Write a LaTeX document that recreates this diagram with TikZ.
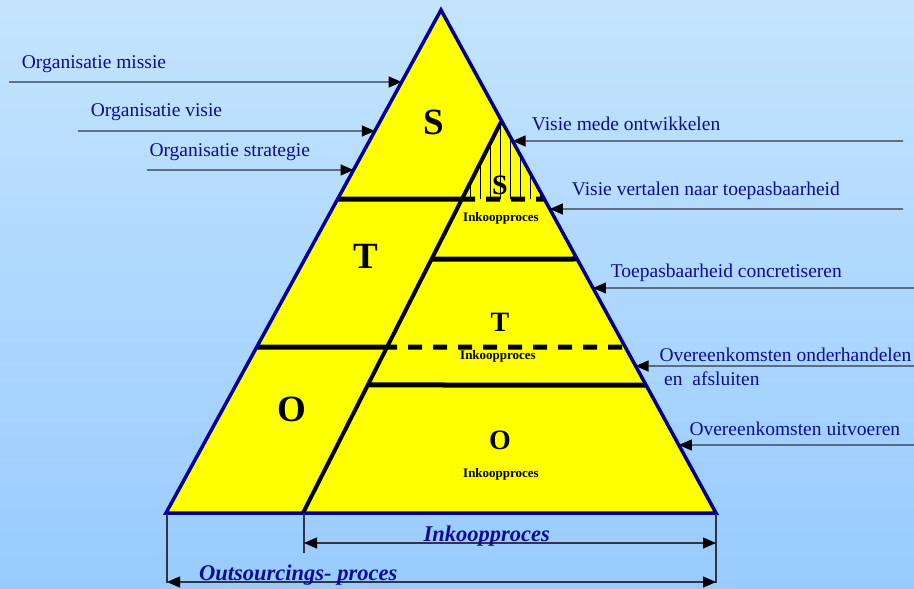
\documentclass[tikz,border=0pt]{standalone}
\usepackage{fontspec}
\setmainfont{Liberation Serif}
\usetikzlibrary{calc,arrows.meta}
\definecolor{pyrfill}{RGB}{255,255,0}
\definecolor{pyredge}{RGB}{0,0,153}
\definecolor{lbltext}{RGB}{12,12,150}
\definecolor{bgtop}{RGB}{196,228,254}
\definecolor{bgbot}{RGB}{152,203,255}
\definecolor{wire}{RGB}{50,52,64}

\begin{document}
\begin{tikzpicture}[x=1pt,y=-1pt,
  sidelabel/.style={text=lbltext, font=\fontsize{19.5}{22}\selectfont, inner sep=0pt, anchor=base west},
  bigletter/.style={font=\fontsize{37}{40}\selectfont\bfseries, inner sep=0pt},
  subletter/.style={font=\fontsize{28}{32}\selectfont\bfseries, inner sep=0pt},
  subtag/.style={font=\fontsize{13}{15}\selectfont\bfseries, inner sep=0pt, anchor=base},
  dimlabel/.style={text=lbltext, font=\fontsize{22.5}{26}\selectfont\bfseries\itshape, inner sep=0pt, anchor=base west},
  layer/.style={line width=5pt},
  layerdash/.style={line width=5pt, dash pattern=on 14pt off 11pt, dash phase=14pt},
  inarrow/.style={draw=wire, line width=1.3pt, -{Triangle[length=13pt,width=11pt,color=black]}},
  dimarrow/.style={draw=wire, line width=1.3pt, {Triangle[length=13pt,width=11pt,color=black]}-{Triangle[length=13pt,width=11pt,color=black]}},
  extline/.style={draw=wire, line width=1.3pt},
]
\useasboundingbox (0,0) rectangle (914,589);
\fill[top color=bgtop, bottom color=bgbot] (0,0) rectangle (914,589);

% pyramid corners and the inner (purchasing) diagonal
\coordinate (A)  at (441,10);
\coordinate (BL) at (166,513);
\coordinate (BR) at (716,513);
\coordinate (P)  at (501,122);
\coordinate (Q)  at (303,513);

% layer boundaries: left edge, inner diagonal, right edge
\coordinate (L1) at ($(A)!0.37575!(BL)$);
\coordinate (D1) at ($(P)!0.19693!(Q)$);
\coordinate (R1) at ($(A)!0.37575!(BR)$);
\coordinate (D2) at ($(P)!0.35038!(Q)$);
\coordinate (R2) at ($(A)!0.49503!(BR)$);
\coordinate (L3) at ($(A)!0.66998!(BL)$);
\coordinate (D3) at ($(P)!0.57545!(Q)$);
\coordinate (R3) at ($(A)!0.66998!(BR)$);
\coordinate (D4) at ($(P)!0.67263!(Q)$);
\coordinate (R4) at ($(A)!0.74553!(BR)$);
\coordinate (E1) at ($(D1)+(13,0)$);
\coordinate (E3) at ($(D3)+(10,0)$);

\fill[pyrfill] (A) -- (BR) -- (BL) -- cycle;

% hatched strategic part of the purchasing process
\begin{scope}
  \clip (P) -- (D1) -- (R1) -- cycle;
  \foreach \x in {470,480,...,540}
    \draw[line width=0.8pt] (\x,100) -- (\x,200);
\end{scope}

% layer lines
\draw[layer] (L1) -- (E1);
\draw[layerdash] (E1) -- (R1);
\draw[layer] (D2) -- (R2);
\draw[layer] (L3) -- (E3);
\draw[layerdash] (E3) -- (R3);
\draw[layer] (D4) -- (R4);
\draw[line width=4pt] (P) -- (Q);

\draw[pyredge, line width=3.5pt, line join=miter] (A) -- (BR) -- (BL) -- cycle;

% layer letters
\node[bigletter] (S) at (434,122) {S};
\node[bigletter] (T) at (366,256) {T};
\node[bigletter] (O) at (292,409) {O};
\node[subletter] (s2) at (500,185) {S};
\node[subletter] (t2) at (500,322) {T};
\node[subletter] (o2) at (500,440) {O};
\node[subtag] (i1) at (501,221.5) {Inkoopproces};
\node[subtag] (i2) at (498,359.5) {Inkoopproces};
\node[subtag] (i3) at (501,477.5) {Inkoopproces};

% organisation arrows (left)
\node[sidelabel] (om) at (21.7,68.3) {Organisatie missie};
\node[sidelabel] (ov) at (90.7,116.7) {Organisatie visie};
\node[sidelabel] (os) at (149.3,156) {Organisatie strategie};
\coordinate (om0) at (9,82);
\coordinate (ov0) at (78,131);
\coordinate (os0) at (147,170);
\coordinate (om1) at ($(A)!0.14314!(BL)$);
\coordinate (ov1) at ($(A)!0.24056!(BL)$);
\coordinate (os1) at ($(A)!0.31809!(BL)$);
\draw[inarrow] (om0) -- (om1);
\draw[inarrow] (ov0) -- (ov1);
\draw[inarrow] (os0) -- (os1);

% purchasing arrows (right)
\node[sidelabel] (vm) at (531.7,130.7) {Visie mede ontwikkelen};
\node[sidelabel] (vv) at (571.7,195) {Visie vertalen naar toepasbaarheid};
\node[sidelabel] (tc) at (610.7,277.7) {Toepasbaarheid concretiseren};
\node[sidelabel] (oo) at (659.3,361.7) {Overeenkomsten onderhandelen};
\node[sidelabel] (oa) at (664,385) {en\ \ afsluiten};
\node[sidelabel] (ou) at (689.3,435) {Overeenkomsten uitvoeren};
\coordinate (vm0) at (903,141);
\coordinate (vv0) at (903,209);
\coordinate (tc0) at (914,288);
\coordinate (oo0) at (914,366);
\coordinate (ou0) at (914,445);
\coordinate (vm1) at ($(A)!0.26044!(BR)$);
\coordinate (vv1) at ($(A)!0.39563!(BR)$);
\coordinate (tc1) at ($(A)!0.55268!(BR)$);
\coordinate (oo1) at ($(A)!0.70775!(BR)$);
\coordinate (ou1) at ($(A)!0.86481!(BR)$);
\draw[inarrow] (vm0) -- (vm1);
\draw[inarrow] (vv0) -- (vv1);
\draw[inarrow] (tc0) -- (tc1);
\draw[inarrow] (oo0) -- (oo1);
\draw[inarrow] (ou0) -- (ou1);

% dimension lines under the pyramid
\coordinate (xl0) at (167,514);
\coordinate (xl1) at (167,583);
\coordinate (xm0) at (304,514);
\coordinate (xm1) at (304,553);
\coordinate (xr0) at (716,514);
\coordinate (xr1) at (716,583);
\draw[extline] (xl0) -- (xl1);
\draw[extline] (xm0) -- (xm1);
\draw[extline] (xr0) -- (xr1);
\coordinate (ik0) at (304,543);
\coordinate (ik1) at (716,543);
\coordinate (ot0) at (167,582);
\coordinate (ot1) at (716,582);
\draw[dimarrow] (ik0) -- (ik1);
\draw[dimarrow] (ot0) -- (ot1);
\node[dimlabel] (ikl) at (423.5,541.5) {Inkoopproces};
\node[dimlabel] (otl) at (199,580) {Outsourcings- proces};
\end{tikzpicture}
\end{document}
